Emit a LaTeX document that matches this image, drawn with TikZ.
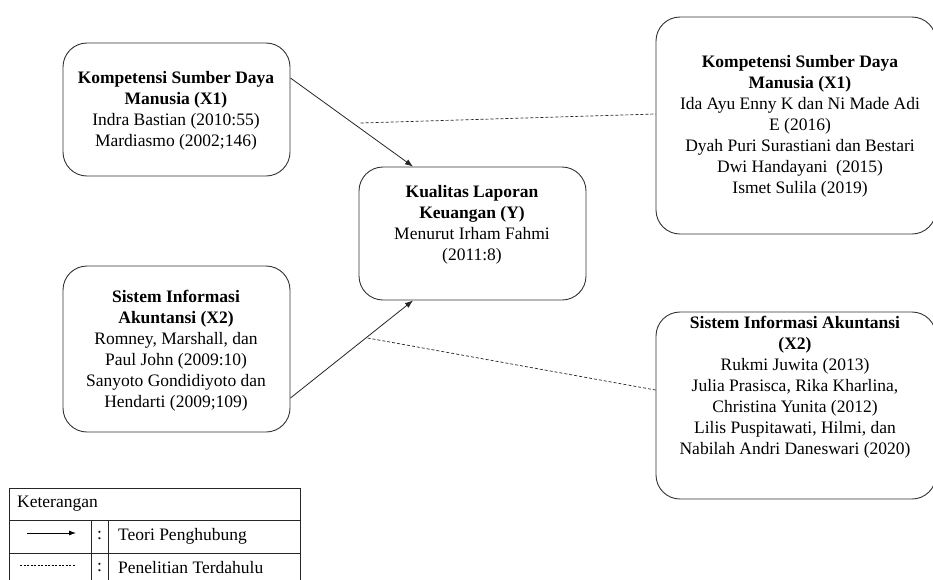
\documentclass[tikz,border=0pt]{standalone}
\usepackage{fontspec}
\setmainfont{Liberation Serif}
\usetikzlibrary{arrows.meta}
\begin{document}
\begin{tikzpicture}[x=1pt,y=-1pt,
  box/.style={draw=black!80,line width=0.9pt,rounded corners=24pt},
  txt/.style={align=center,anchor=north,inner sep=0pt,font=\fontsize{17.5}{21}\selectfont},
  conn/.style={draw=black!85,line width=0.8pt,-{Latex[length=8pt,width=6pt]}},
  prev/.style={draw=black!85,line width=0.7pt,dash pattern=on 3pt off 2pt},
  lg/.style={draw=black!85,line width=0.9pt},
  ltxt/.style={anchor=west,inner sep=0pt,font=\fontsize{17.5}{21}\selectfont}]
\useasboundingbox (0,0) rectangle (933,579);
\fill[white] (0,0) rectangle (933,579);
% boxes
\node[box,minimum width=227pt,minimum height=133pt] (A) at (176.5,109.5) {};
\node[box,minimum width=227pt,minimum height=166pt] (B) at (176.5,349) {};
\node[box,minimum width=227pt,minimum height=133pt] (Y) at (472.5,233.5) {};
\node[box,minimum width=280pt,minimum height=217pt] (C) at (796,125.5) {};
\node[box,minimum width=280pt,minimum height=187pt] (D) at (796,405.5) {};
% texts
\node[txt] (At) at (176,71) {\textbf{Kompetensi Sumber Daya}\\\textbf{Manusia (X1)}\\Indra Bastian (2010:55)\\Mardiasmo (2002;146)};
\node[txt] (Yt) at (472,185) {\textbf{Kualitas Laporan}\\\textbf{Keuangan (Y)}\\Menurut Irham Fahmi\\(2011:8)};
\node[txt] (Bt) at (176,290) {\textbf{Sistem Informasi}\\\textbf{Akuntansi (X2)}\\Romney, Marshall, dan\\Paul John (2009:10)\\Sanyoto Gondidiyoto dan\\Hendarti (2009;109)};
\node[txt] (Ct) at (800,55) {\textbf{Kompetensi Sumber Daya}\\\textbf{Manusia (X1)}\\Ida Ayu Enny K dan Ni Made Adi\\E (2016)\\Dyah Puri Surastiani dan Bestari\\Dwi Handayani\ \ (2015)\\Ismet Sulila (2019)};
\node[txt] (Dt) at (795,316) {\textbf{Sistem Informasi Akuntansi}\\\textbf{(X2)}\\Rukmi Juwita (2013)\\Julia Prasisca, Rika Kharlina,\\Christina Yunita (2012)\\Lilis Puspitawati, Hilmi, dan\\Nabilah Andri Daneswari (2020)};
% connectors
\draw[conn] ([yshift=31.5pt]A.east) -- ([xshift=-59.5pt]Y.north);
\draw[conn] ([yshift=-49pt]B.east) -- ([xshift=-59.5pt]Y.south);
\draw[prev] ([xshift=-295pt,yshift=2.5pt]C.west) -- ([yshift=11.5pt]C.west);
\draw[prev] ([xshift=-288pt,yshift=67.5pt]D.west) -- ([yshift=15.5pt]D.west);
% legend
\draw[lg] (9,488) rectangle (300,590);
\draw[lg] (9,520) -- (300,520);
\draw[lg] (9,553) -- (300,553);
\draw[lg] (91,520) -- (91,590);
\draw[lg] (108,520) -- (108,590);
\node[ltxt] (k) at (17,504) {Keterangan};
\coordinate (la1) at (27,533);
\coordinate (la2) at (76,533);
\draw[line width=0.8pt,-{Latex[length=7pt,width=5pt]}] (la1) -- (la2);
\coordinate (lb1) at (20,565);
\coordinate (lb2) at (76,565);
\draw[line width=0.5pt,dash pattern=on 2pt off 1.5pt] (lb1) -- (lb2);
\node[inner sep=0pt,font=\fontsize{17.5}{21}\selectfont] (c1) at (99.5,536) {:};
\node[inner sep=0pt,font=\fontsize{17.5}{21}\selectfont] (c2) at (99.5,568) {:};
\node[ltxt] (t1) at (118,536) {Teori Penghubung};
\node[ltxt] (t2) at (118,568) {Penelitian Terdahulu};
\end{tikzpicture}
\end{document}
